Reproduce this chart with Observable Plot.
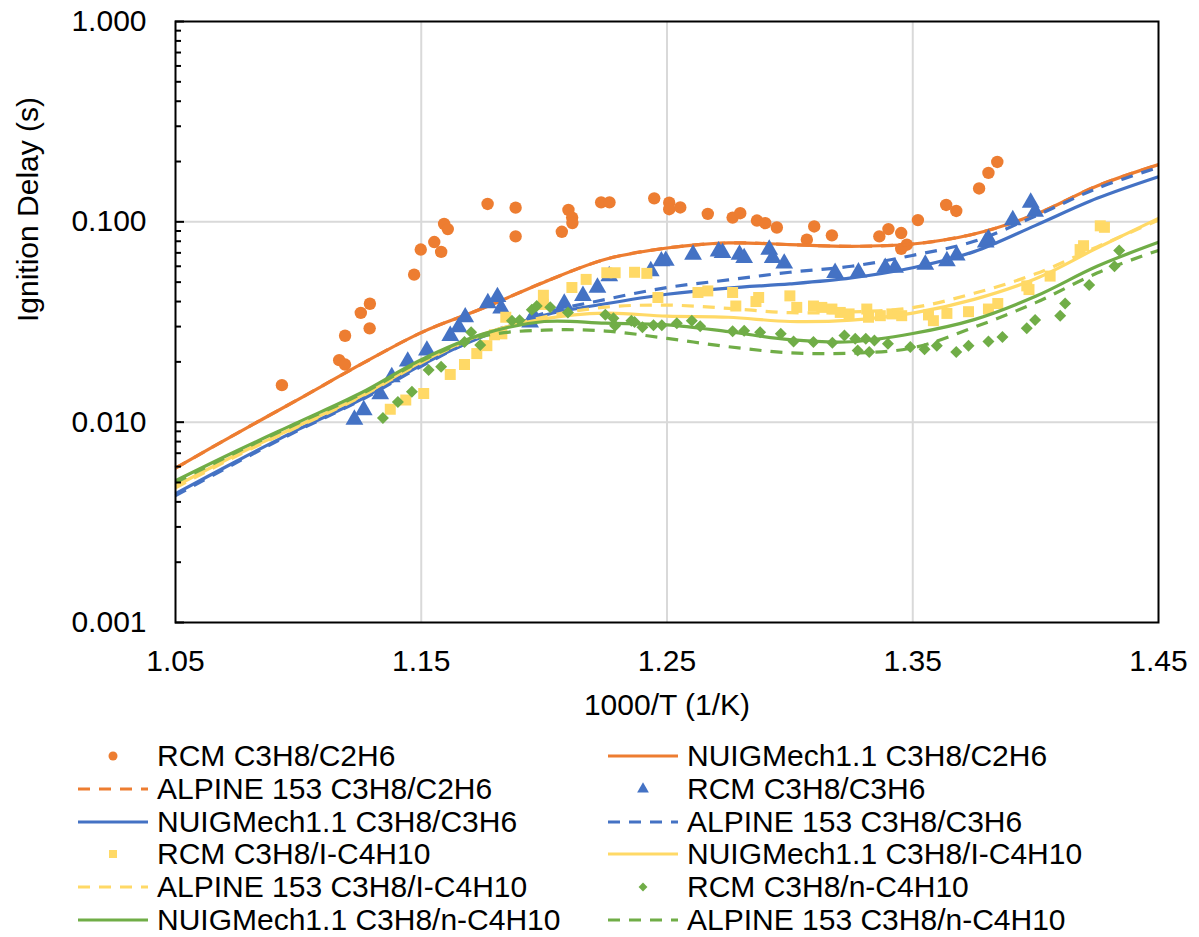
<!DOCTYPE html>
<html>
<head>
<meta charset="utf-8">
<script src="https://cdn.jsdelivr.net/npm/d3@7"></script>
<script src="https://cdn.jsdelivr.net/npm/@observablehq/plot@0.6"></script>
<style>
  html, body { margin: 0; padding: 0; background: #fff; }
  body { width: 1199px; height: 937px; overflow: hidden; font-family: "Liberation Sans", Arial, sans-serif; }
  #legend { position: relative; margin-top: 10px; }
  .item { position: absolute; height: 32px; display: flex; align-items: center; font-size: 30px; color: #000; white-space: nowrap; }
  .item svg { flex: none; margin-right: 9px; }
</style>
</head>
<body>
<div id="chart"></div>
<div id="legend"></div>
<script>
// ---------- data ----------
const xTicks = [1.05, 1.15, 1.25, 1.35, 1.45];
const yTicks = [0.001, 0.01, 0.1, 1];
const xGridValues = [1.15, 1.25, 1.35];
const yGridValues = [0.01, 0.1];

// model curves sampled on a common 1000/T grid
const xModel = [1.05, 1.075, 1.10, 1.125, 1.15, 1.175, 1.20, 1.225, 1.25, 1.275, 1.30, 1.325, 1.35, 1.375, 1.40, 1.425, 1.45];
const nuigC2H6   = [0.0059, 0.0088, 0.0130, 0.0193, 0.0280, 0.0370, 0.0500, 0.0650, 0.0740, 0.0785, 0.0770, 0.0755, 0.0775, 0.0870, 0.1090, 0.1510, 0.1930];
const alpineC2H6 = [0.0059, 0.0088, 0.0130, 0.0193, 0.0280, 0.0370, 0.0500, 0.0650, 0.0740, 0.0785, 0.0770, 0.0755, 0.0775, 0.0870, 0.1090, 0.1510, 0.1930];
const nuigC3H6   = [0.0044, 0.0064, 0.0092, 0.0129, 0.0193, 0.0268, 0.0342, 0.0390, 0.0435, 0.0467, 0.0490, 0.0525, 0.0590, 0.0710, 0.0960, 0.1310, 0.1680];
const alpineC3H6 = [0.0043, 0.0063, 0.0091, 0.0128, 0.0190, 0.0270, 0.0350, 0.0410, 0.0470, 0.0513, 0.0560, 0.0600, 0.0680, 0.0800, 0.1070, 0.1470, 0.1870];
const nuigIC4    = [0.0048, 0.0069, 0.0096, 0.0134, 0.0200, 0.0275, 0.0328, 0.0350, 0.0338, 0.0334, 0.0318, 0.0323, 0.0350, 0.0410, 0.0520, 0.0740, 0.1040];
const alpineIC4  = [0.0047, 0.0068, 0.0095, 0.0133, 0.0198, 0.0273, 0.0335, 0.0375, 0.0384, 0.0370, 0.0352, 0.0355, 0.0373, 0.0440, 0.0550, 0.0750, 0.1020];
const nuigNC4    = [0.0051, 0.0072, 0.0100, 0.0139, 0.0205, 0.0275, 0.0318, 0.0312, 0.0306, 0.0283, 0.0258, 0.0252, 0.0277, 0.0325, 0.0425, 0.0600, 0.0790];
const alpineNC4  = [0.0050, 0.0071, 0.0099, 0.0137, 0.0202, 0.0268, 0.0288, 0.0285, 0.0262, 0.0238, 0.0222, 0.0221, 0.0235, 0.0298, 0.0395, 0.0555, 0.0720];

// RCM measurements [1000/T, ignition delay]
const rcmC2H6 = [[1.0933,0.0153],[1.1166,0.0204],[1.119,0.0194],[1.119,0.027],[1.1254,0.0351],[1.1291,0.039],[1.129,0.0294],[1.1471,0.0545],[1.1498,0.0727],[1.1553,0.0793],[1.1581,0.0708],[1.1593,0.0977],[1.1608,0.092],[1.177,0.1228],[1.1884,0.1177],[1.1884,0.0846],[1.2072,0.0892],[1.2099,0.1146],[1.2114,0.105],[1.2115,0.0986],[1.2232,0.125],[1.2266,0.125],[1.2448,0.131],[1.2509,0.1247],[1.2509,0.1156],[1.2554,0.118],[1.2666,0.1096],[1.2767,0.105],[1.2798,0.1104],[1.2866,0.1015],[1.29,0.0985],[1.2947,0.0937],[1.3069,0.0814],[1.3099,0.0948],[1.3171,0.0856],[1.3364,0.0846],[1.3401,0.092],[1.3453,0.0879],[1.3476,0.0769],[1.3453,0.0733],[1.3521,0.102],[1.3636,0.1214],[1.3677,0.1133],[1.377,0.1468],[1.3808,0.1755],[1.3844,0.199]];
const rcmC3H6 = [[1.1228,0.0103],[1.1266,0.0115],[1.1333,0.0138],[1.138,0.0168],[1.1445,0.0201],[1.1523,0.0228],[1.1618,0.027],[1.1652,0.0298],[1.1679,0.0334],[1.1771,0.0393],[1.181,0.0422],[1.1825,0.037],[1.1943,0.0315],[1.1957,0.034],[1.2082,0.0391],[1.2158,0.0427],[1.2217,0.047],[1.2265,0.0536],[1.2434,0.0568],[1.2477,0.0636],[1.2495,0.064],[1.2606,0.0687],[1.271,0.0713],[1.2726,0.07],[1.2795,0.0687],[1.2814,0.066],[1.2916,0.0727],[1.293,0.066],[1.2977,0.062],[1.3184,0.0557],[1.3279,0.056],[1.3388,0.059],[1.3428,0.059],[1.3551,0.0612],[1.3639,0.0637],[1.3679,0.068],[1.3797,0.079],[1.3808,0.082],[1.3907,0.102],[1.398,0.1247],[1.3998,0.1124]];
const rcmIC4 = [[1.1374,0.0116],[1.1437,0.0129],[1.151,0.0139],[1.1618,0.0173],[1.1676,0.0194],[1.1726,0.022],[1.1767,0.0241],[1.1798,0.0273],[1.1828,0.0276],[1.1844,0.0334],[1.1997,0.043],[1.1997,0.0387],[1.2113,0.047],[1.2171,0.0516],[1.2255,0.0557],[1.2289,0.0557],[1.2368,0.056],[1.2418,0.0553],[1.2463,0.0419],[1.2626,0.0444],[1.2666,0.0452],[1.2767,0.0444],[1.278,0.038],[1.2873,0.0419],[1.2862,0.040],[1.3,0.0427],[1.3028,0.0374],[1.3096,0.038],[1.313,0.0374],[1.3171,0.0367],[1.3205,0.0353],[1.3241,0.0347],[1.3313,0.0367],[1.332,0.0334],[1.3368,0.034],[1.3415,0.0347],[1.3455,0.034],[1.3564,0.0343],[1.3584,0.0321],[1.3639,0.0349],[1.3727,0.0356],[1.3808,0.0367],[1.3846,0.0391],[1.3964,0.0479],[1.3973,0.0459],[1.4059,0.0536],[1.4181,0.0727],[1.4195,0.076],[1.4263,0.0955],[1.428,0.0939]];
const rcmNC4 = [[1.1344,0.0105],[1.1405,0.0126],[1.1462,0.0142],[1.153,0.0182],[1.1581,0.0189],[1.1676,0.0251],[1.1703,0.0281],[1.174,0.0243],[1.1869,0.0321],[1.19,0.0323],[1.195,0.0364],[1.197,0.038],[1.2025,0.0375],[1.2097,0.0353],[1.2249,0.0344],[1.2282,0.033],[1.2289,0.0303],[1.2355,0.0321],[1.2368,0.0316],[1.24,0.0298],[1.2445,0.0305],[1.2479,0.0305],[1.254,0.0312],[1.2601,0.0321],[1.2635,0.0301],[1.2767,0.0284],[1.2814,0.0286],[1.2879,0.0281],[1.2963,0.0276],[1.3015,0.0253],[1.3096,0.0251],[1.3173,0.0249],[1.3222,0.0271],[1.3266,0.0261],[1.3276,0.0228],[1.3309,0.0261],[1.3344,0.0256],[1.3323,0.0224],[1.3399,0.0246],[1.349,0.0237],[1.3548,0.0231],[1.3598,0.0241],[1.3677,0.0224],[1.3727,0.0241],[1.3808,0.0253],[1.3865,0.0266],[1.3964,0.0294],[1.3998,0.0324],[1.41,0.034],[1.412,0.0391],[1.4218,0.0484],[1.4321,0.060],[1.434,0.0719]];

const seriesNames = [
  "RCM C3H8/C2H6", "NUIGMech1.1 C3H8/C2H6", "ALPINE 153 C3H8/C2H6",
  "RCM C3H8/C3H6", "NUIGMech1.1 C3H8/C3H6", "ALPINE 153 C3H8/C3H6",
  "RCM C3H8/I-C4H10", "NUIGMech1.1 C3H8/I-C4H10", "ALPINE 153 C3H8/I-C4H10",
  "RCM C3H8/n-C4H10", "NUIGMech1.1 C3H8/n-C4H10", "ALPINE 153 C3H8/n-C4H10"
];
const colors = { orange: "#ED7D31", blue: "#4472C4", yellow: "#FFD966", green: "#70AD47" };

// ---------- build series ----------
const curve = (ys) => xModel.map((x, i) => ({ x, y: ys[i] }));
const pts = (arr) => arr.map(([x, y]) => ({ x, y }));

const series = [
  { name: seriesNames[0],  kind: "dot",  data: pts(rcmC2H6), color: colors.orange, symbol: "circle", r: 6.2 },
  { name: seriesNames[1],  kind: "line", data: curve(nuigC2H6), color: colors.orange },
  { name: seriesNames[2],  kind: "dash", data: curve(alpineC2H6), color: colors.orange },
  { name: seriesNames[3],  kind: "dot",  data: pts(rcmC3H6), color: colors.blue, symbol: "triangle", r: 6.6 },
  { name: seriesNames[4],  kind: "line", data: curve(nuigC3H6), color: colors.blue },
  { name: seriesNames[5],  kind: "dash", data: curve(alpineC3H6), color: colors.blue },
  { name: seriesNames[6],  kind: "dot",  data: pts(rcmIC4), color: colors.yellow, symbol: "square", r: 6.2 },
  { name: seriesNames[7],  kind: "line", data: curve(nuigIC4), color: colors.yellow },
  { name: seriesNames[8],  kind: "dash", data: curve(alpineIC4), color: colors.yellow },
  { name: seriesNames[9],  kind: "dot",  data: pts(rcmNC4), color: colors.green, symbol: "diamond2", r: 5.4 },
  { name: seriesNames[10], kind: "line", data: curve(nuigNC4), color: colors.green },
  { name: seriesNames[11], kind: "dash", data: curve(alpineNC4), color: colors.green }
];

const dataMarks = series.map(s => s.kind === "dot"
  ? Plot.dot(s.data, { x: "x", y: "y", symbol: () => s.symbol, r: s.r, fill: s.color, stroke: "none" })
  : Plot.line(s.data, { x: "x", y: "y", stroke: s.color, strokeWidth: 3.2, curve: "catmull-rom",
      strokeDasharray: s.kind === "dash" ? "12,9" : null, strokeLinecap: "butt" }));

const yMinor = d3.scaleLog().domain([0.001, 1]).ticks()
  .filter(v => Math.abs(Math.log10(v) - Math.round(Math.log10(v))) > 1e-6);

const chart = Plot.plot({
  width: 1199,
  height: 730,
  marginLeft: 175,
  marginRight: 41,
  marginTop: 21,
  marginBottom: 108,
  style: { fontFamily: "'Liberation Sans', Arial, sans-serif", fontSize: "30px", color: "#000", background: "#fff", overflow: "visible" },
  x: { domain: [1.05, 1.45] },
  y: { type: "log", domain: [0.001, 1] },
  marks: [
    Plot.gridX(xGridValues, { stroke: "#d9d9d9", strokeOpacity: 1, strokeWidth: 2 }),
    Plot.gridY(yGridValues, { stroke: "#d9d9d9", strokeOpacity: 1, strokeWidth: 2 }),
    ...dataMarks,
    Plot.axisX(xTicks, { tickSize: 0, tickPadding: 27, tickFormat: d3.format(".2f"), label: null, fontSize: 30 }),
    Plot.axisY(yTicks, { tickSize: 0, tickPadding: 29, tickFormat: d3.format(".3f"), label: null, fontSize: 30 }),
    Plot.axisY(yTicks, { tickSize: 9, dx: 9, text: null, label: null, stroke: "#000", strokeWidth: 2 }),
    Plot.axisY(yMinor, { tickSize: 6, dx: 6, text: null, label: null, stroke: "#000", strokeWidth: 2 }),
    Plot.frame({ stroke: "#000", strokeWidth: 2 }),
    Plot.text(["1000/T (1/K)"], { frameAnchor: "bottom", dy: 92, text: d => d, fontSize: 30, fill: "#000" }),
    Plot.text(["Ignition Delay (s)"], { frameAnchor: "left", dx: -147, rotate: -90, text: d => d, fontSize: 30, fill: "#000" })
  ]
});
document.getElementById("chart").appendChild(chart);

// ---------- legend (two columns, row-major order) ----------
const legend = document.getElementById("legend");
const symbolSvg = (s) => {
  const w = 70, h = 24, cx = 35, cy = 12;
  let inner = "";
  if (s.kind === "line") inner = `<line x1="0" x2="${w}" y1="${cy}" y2="${cy}" stroke="${s.color}" stroke-width="3.2"/>`;
  else if (s.kind === "dash") inner = `<line x1="0" x2="${w}" y1="${cy}" y2="${cy}" stroke="${s.color}" stroke-width="3.2" stroke-dasharray="12,9"/>`;
  else {
    const sym = { circle: d3.symbolCircle, triangle: d3.symbolTriangle, square: d3.symbolSquare, diamond2: d3.symbolDiamond2 }[s.symbol];
    const size = { circle: 64, triangle: 60, square: 64, diamond2: 50 }[s.symbol];
    inner = `<path transform="translate(${cx},${cy})" d="${d3.symbol(sym, size)()}" fill="${s.color}"/>`;
  }
  return `<svg width="${w}" height="${h}">${inner}</svg>`;
};
series.forEach((s, i) => {
  const col = i % 2, row = Math.floor(i / 2);
  const div = document.createElement("div");
  div.className = "item";
  div.style.left = (col === 0 ? 78 : 608) + "px";
  div.style.top = (row * 32.8) + "px";
  div.innerHTML = symbolSvg(s) + `<span>${s.name}</span>`;
  legend.appendChild(div);
});
</script>
</body>
</html>
